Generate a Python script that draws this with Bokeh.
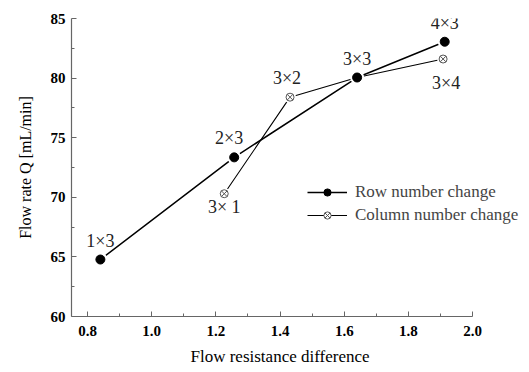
from bokeh.plotting import figure
from bokeh.models import (Range1d, Legend, LegendItem, ColumnDataSource, FixedTicker,
                          Title, LabelSet)
from bokeh.embed import file_html
from bokeh.resources import INLINE

# Data
row_x = [0.84, 1.257, 1.64, 1.913]
row_y = [64.78, 73.35, 80.05, 83.05]
row_labels = ["1×3", "2×3", "3×3", "4×3"]

col_x = [1.226, 1.431, 1.64, 1.908]
col_y = [70.3, 78.4, 80.05, 81.6]
col_labels = ["3× 1", "3×2", "", "3×4"]

x_ticks = [0.8, 1.0, 1.2, 1.4, 1.6, 1.8, 2.0]
y_ticks = [60, 65, 70, 75, 80, 85]

# label offsets in pixels (style)
row_dx = [0, -5, 0, 0]
row_dy = [19, 19, 19, 19]
col_dx = [0, -3, 0, 3]
col_dy = [-13, 19, 0, -24]

SERIF = "Liberation Serif"

p = figure(width=529, height=372, output_backend="svg", toolbar_location=None,
           x_range=Range1d(0.75, 2.171), y_range=Range1d(60, 85),
           min_border_left=71, min_border_right=2, min_border_top=18, min_border_bottom=56)
p.outline_line_color = None
p.xgrid.visible = False
p.ygrid.visible = False

for ax in (p.xaxis[0], p.yaxis[0]):
    ax.axis_line_color = "#666666"
    ax.axis_line_width = 1.2
    ax.major_tick_line_color = "#666666"
    ax.minor_tick_line_color = "#666666"
    ax.major_tick_in = 5
    ax.major_tick_out = 0
    ax.minor_tick_in = 3
    ax.minor_tick_out = 0
    ax.major_label_text_font = SERIF
    ax.major_label_text_font_style = "bold"
    ax.major_label_text_font_size = "15px"
    ax.major_label_text_color = "black"
    ax.axis_label_text_font = SERIF
    ax.axis_label_text_font_style = "normal"
    ax.axis_label_text_color = "black"

p.xaxis[0].bounds = (0.75, 2.0)
p.xaxis[0].ticker = FixedTicker(ticks=x_ticks, minor_ticks=[0.9, 1.1, 1.3, 1.5, 1.7, 1.9])
p.yaxis[0].ticker = FixedTicker(ticks=y_ticks, minor_ticks=[62.5, 67.5, 72.5, 77.5, 82.5])
p.xaxis.major_label_overrides = {t: f"{t:.1f}" for t in x_ticks}
p.yaxis.axis_label = "Flow rate Q [mL/min]"
p.yaxis.axis_label_text_font_size = "16px"
p.xaxis.major_label_standoff = 9
p.yaxis.major_label_standoff = 6
p.yaxis.axis_label_standoff = 14

xtitle = Title(text="Flow resistance difference", align="left", offset=119,
               text_font=SERIF, text_font_style="normal", text_font_size="17px",
               text_color="black", standoff=12)
p.add_layout(xtitle, "below")

row_src = ColumnDataSource(dict(x=row_x, y=row_y, t=row_labels, dx=row_dx, dy=row_dy))
col_src = ColumnDataSource(dict(x=col_x, y=col_y, t=col_labels, dx=col_dx, dy=col_dy))

rl = p.line("x", "y", source=row_src, line_color="black", line_width=1.5)
cl = p.line("x", "y", source=col_src, line_color="black", line_width=1.1)
# white halos to create gaps at markers
p.scatter("x", "y", source=row_src, size=14, fill_color="white", line_color=None)
p.scatter("x", "y", source=col_src, size=12, fill_color="white", line_color=None)
cm = p.scatter("x", "y", source=col_src, marker="circle_x", size=8,
               fill_color="white", line_color="#555555", line_width=1)
rm = p.scatter("x", "y", source=row_src, marker="circle", size=9,
               fill_color="black", line_color="black")

for src in (row_src, col_src):
    p.add_layout(LabelSet(x="x", y="y", text="t", source=src, x_offset="dx", y_offset="dy",
                          text_align="center", text_baseline="middle",
                          text_font=SERIF, text_font_size="18px", text_color="#222222"))

legend = Legend(items=[LegendItem(label="Row number change", renderers=[rl, rm]),
                       LegendItem(label="Column number change", renderers=[cl, cm])],
                location=(236, 91), glyph_width=40, glyph_height=18,
                label_text_font=SERIF, label_text_font_size="17px",
                label_standoff=8, spacing=3, padding=2, border_line_color=None,
                background_fill_alpha=0)
p.add_layout(legend)

open("out.html", "w").write(file_html(p, INLINE))
